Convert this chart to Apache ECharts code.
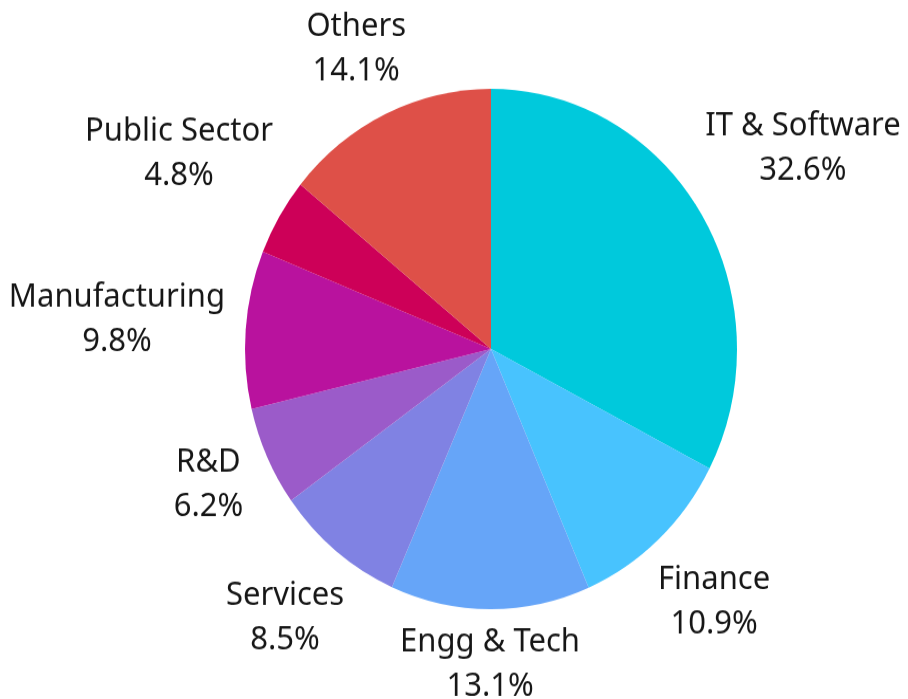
<!DOCTYPE html>
<html lang="en">
<head>
    <meta charset="UTF-8">
    <title>Industry share</title>
    <script src="https://cdn.jsdelivr.net/npm/echarts@6/dist/echarts.min.js"></script>
    <style>
        html, body { margin: 0; padding: 0; background: #fff; overflow: hidden; }
        /* the reference is slightly stretched vertically */
        #main { width: 908px; height: 700px; transform: scaleY(1.0575); transform-origin: 0 0; }
    </style>
</head>
<body>
    <div id="main"></div>
    <script type="text/javascript">
        var categories = ['IT & Software', 'Finance', 'Engg & Tech', 'Services', 'R&D', 'Manufacturing', 'Public Sector', 'Others'];
        var shares = [32.6, 10.9, 13.1, 8.5, 6.2, 9.8, 4.8, 14.1];
        var colors = ['#00c9dc', '#48c3fe', '#66a5f8', '#8082e3', '#9b5bc9', '#b9129e', '#cd0058', '#de5048'];

        var CX = 491, CY = 330, R = 246;
        var GAP = 20;   // distance from pie edge to nearest corner of a label

        var total = shares.reduce(function (a, b) { return a + b; }, 0);

        function midAngle(i) {
            var cum = 0;
            for (var k = 0; k < i; k++) cum += shares[k];
            return (cum + shares[i] / 2) / total * Math.PI * 2;
        }

        // put label centre on the slice's mid direction, just outside the pie
        function placeLabel(params) {
            var a = midAngle(params.dataIndex);
            var ux = Math.sin(a), uy = -Math.cos(a);
            var hw = params.labelRect.width / 2;
            var hh = params.labelRect.height / 2 - 10;
            var lo = 0, hi = 800;
            for (var n = 0; n < 40; n++) {
                var t = (lo + hi) / 2;
                var dx = Math.max(Math.abs(t * ux) - hw, 0);
                var dy = Math.max(Math.abs(t * uy) - hh, 0);
                if (Math.sqrt(dx * dx + dy * dy) < R + GAP) lo = t; else hi = t;
            }
            return { x: CX + lo * ux, y: CY + lo * uy, align: 'center', verticalAlign: 'middle' };
        }

        var myChart = echarts.init(document.getElementById('main'));
        var option = {
            animation: false,
            color: colors,
            series: [
                {
                    type: 'pie',
                    center: [CX, CY],
                    radius: R,
                    startAngle: 90,
                    clockwise: true,
                    data: categories.map(function (c, i) { return { name: c, value: shares[i] }; }),
                    itemStyle: { borderWidth: 0 },
                    label: {
                        show: true,
                        position: 'outside',
                        fontFamily: 'Noto Sans',
                        fontSize: 31,
                        lineHeight: 42,
                        color: '#161616',
                        align: 'center',
                        overflow: 'none',
                        formatter: function (p) { return p.name + '\n' + p.value.toFixed(1) + '%'; }
                    },
                    labelLine: { show: false },
                    labelLayout: placeLabel,
                    emphasis: { disabled: true }
                }
            ]
        };
        myChart.setOption(option);
    </script>
</body>
</html>
